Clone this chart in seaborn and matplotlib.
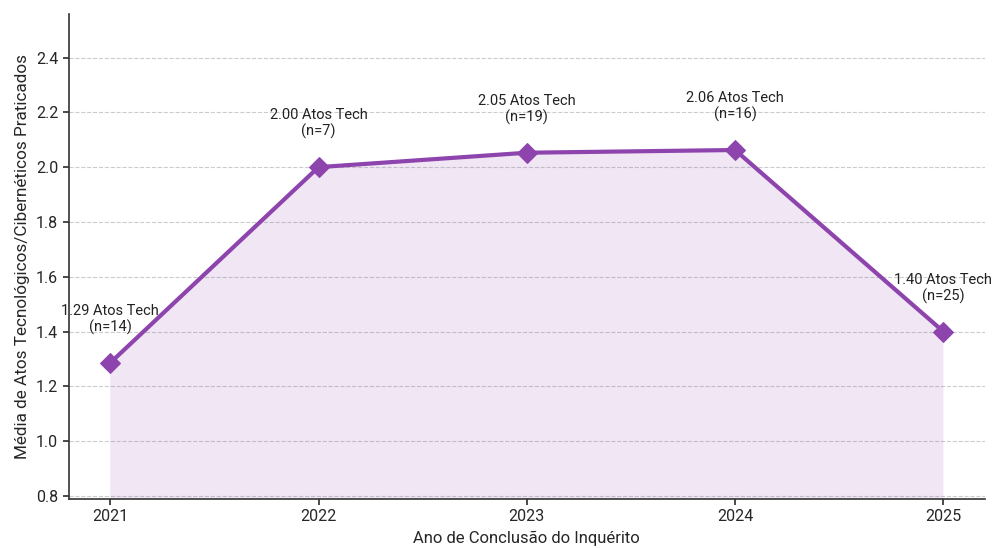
import matplotlib
matplotlib.use("Agg")
import matplotlib.pyplot as plt
import seaborn as sns
import pandas as pd

anos = [2021, 2022, 2023, 2024, 2025]
medias = [1.2857, 2.00, 2.0526, 2.0625, 1.40]
n_inq = [14, 7, 19, 16, 25]
rotulos = ["1.29", "2.00", "2.05", "2.06", "1.40"]

sns.set_theme(style="white")
plt.rcParams['font.family'] = ['Roboto', 'DejaVu Sans']

cor = "#8E44AD"
df = pd.DataFrame({"ano": anos, "media": medias})

fig, ax = plt.subplots(figsize=(9.94, 5.48), dpi=100)
ax.fill_between(df["ano"], df["media"], 0.0, color=cor, alpha=0.13, linewidth=0, zorder=1)
sns.lineplot(data=df, x="ano", y="media", ax=ax, color=cor, linewidth=3,
             marker="D", markersize=10, markeredgecolor=cor, zorder=3)

for a, m, r, n in zip(anos, medias, rotulos, n_inq):
    ax.annotate(f"{r} Atos Tech\n(n={n})", xy=(a, m), xytext=(0, 20),
                textcoords="offset points", ha="center", va="bottom",
                fontsize=10.5, color="#222222", linespacing=1.15)

ax.set_xlim(2020.8, 2025.2)
ax.set_ylim(0.79, 2.56)
ax.set_xticks(anos)
ax.set_xticklabels([str(a) for a in anos])
ax.set_yticks([0.8, 1.0, 1.2, 1.4, 1.6, 1.8, 2.0, 2.2, 2.4])
ax.yaxis.grid(True, linestyle="--", color="#cccccc", linewidth=0.8)
ax.set_axisbelow(True)
ax.tick_params(axis="both", labelsize=11.5, length=4, color="#333333", left=True, bottom=True)
ax.set_xlabel("Ano de Conclusão do Inquérito", fontsize=12, labelpad=5)
ax.set_ylabel("Média de Atos Tecnológicos/Cibernéticos Praticados", fontsize=12.3)
sns.despine(ax=ax)
for s in ["left", "bottom"]:
    ax.spines[s].set_color("#333333")
    ax.spines[s].set_linewidth(1.2)

fig.subplots_adjust(left=0.069, right=0.991, top=0.975, bottom=0.09)
fig.savefig("out.png", dpi=100)
